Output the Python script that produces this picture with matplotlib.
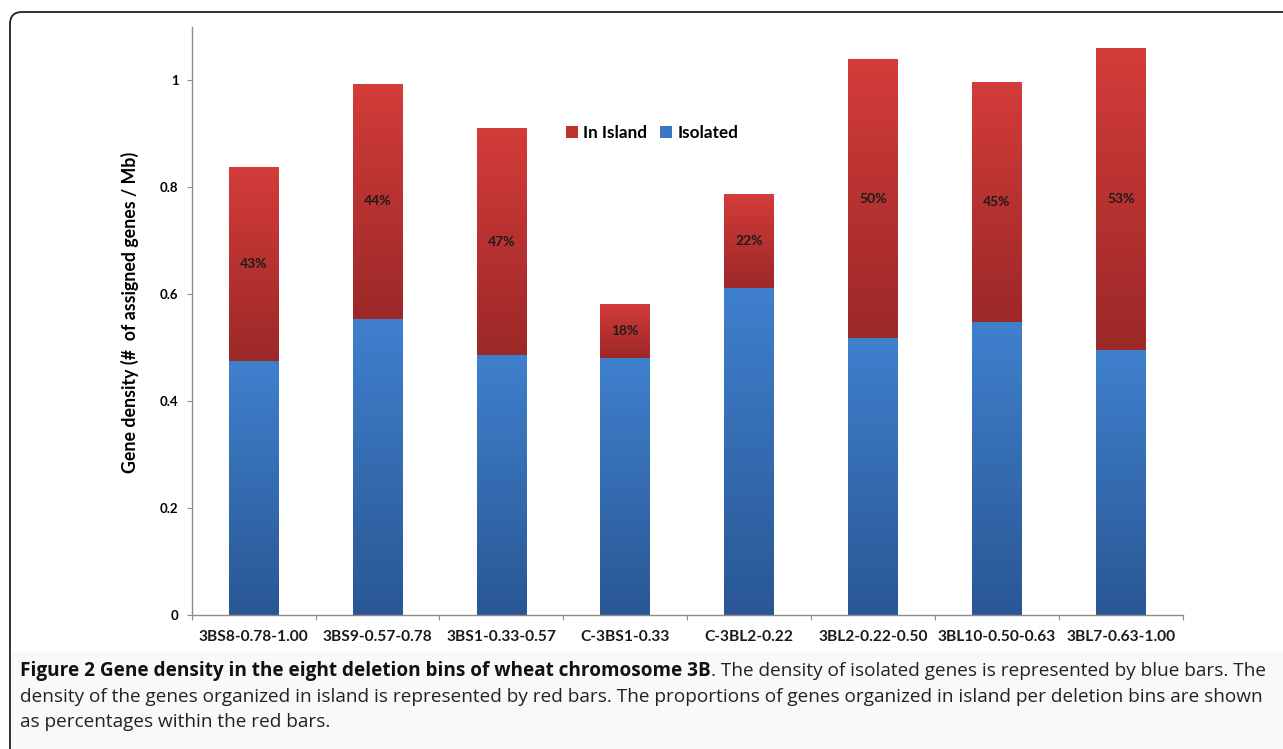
import numpy as np
import matplotlib
matplotlib.use('Agg')
import matplotlib.pyplot as plt
from matplotlib.colors import LinearSegmentedColormap
from matplotlib.patches import FancyBboxPatch, Rectangle

# Data
bins = ['3BS8-0.78-1.00', '3BS9-0.57-0.78', '3BS1-0.33-0.57', 'C-3BS1-0.33',
        'C-3BL2-0.22', '3BL2-0.22-0.50', '3BL10-0.50-0.63', '3BL7-0.63-1.00']
isolated = [0.475, 0.553, 0.486, 0.480, 0.611, 0.518, 0.548, 0.495]
in_island = [0.362, 0.440, 0.424, 0.101, 0.176, 0.521, 0.448, 0.565]
pct_labels = ['43%', '44%', '47%', '18%', '22%', '50%', '45%', '53%']
y_ticks = [0, 0.2, 0.4, 0.6, 0.8, 1.0]
y_tick_labels = ['0', '0.2', '0.4', '0.6', '0.8', '1']

blue_top, blue_bot = '#3f80cd', '#2a5794'
red_top, red_bot = '#d33c39', '#9c2828'


def gradient_bars(ax, bars, top_color, bottom_color):
    cmap = LinearSegmentedColormap.from_list('g', [bottom_color, top_color])
    grad = np.linspace(0, 1, 256).reshape(-1, 1)
    for bar in bars:
        x, y = bar.get_x(), bar.get_y()
        w, h = bar.get_width(), bar.get_height()
        im = ax.imshow(grad, extent=[x, x + w, y, y + h], origin='lower',
                       cmap=cmap, aspect='auto', zorder=2)
        im.set_clip_path(bar)
        bar.set_facecolor('none')


W, H = 1283, 749
fig = plt.figure(figsize=(W / 100, H / 100), dpi=100)
fig.patch.set_facecolor('white')

# caption area and frame
fig.add_artist(Rectangle((10 / W, 0), 1, 97 / H, transform=fig.transFigure,
                         facecolor='#f9f9f9', edgecolor='none', zorder=0))
fig.add_artist(FancyBboxPatch((0.10, -1.0), 14.0, 8.37,
                              boxstyle='round,pad=0,rounding_size=0.12',
                              transform=fig.dpi_scale_trans,
                              facecolor='none', edgecolor='#222222',
                              linewidth=1.3, zorder=1))

ax = fig.add_axes([191.7 / W, 1 - 615 / H, 991 / W, (615 - 26.5) / H])
ax.set_facecolor('none')

x = np.arange(len(bins))
b1 = ax.bar(x, isolated, width=0.4, color=blue_top, label='Isolated', zorder=2)
b2 = ax.bar(x, in_island, width=0.4, bottom=isolated, color=red_top,
            label='In Island', zorder=2)
gradient_bars(ax, b1, blue_top, blue_bot)
gradient_bars(ax, b2, red_top, red_bot)

for i in range(len(bins)):
    ax.text(x[i], isolated[i] + in_island[i] / 2, pct_labels[i],
            ha='center', va='center', fontsize=10, fontweight='bold',
            family='Lato', color='#1c1c1c', zorder=3)

ax.set_xlim(-0.5, len(bins) - 0.5)
ax.set_ylim(0, 1.1)

for s in ['top', 'right']:
    ax.spines[s].set_visible(False)
for s in ['left', 'bottom']:
    ax.spines[s].set_color('#8c8c8c')
    ax.spines[s].set_linewidth(1.0)

ax.set_yticks(y_ticks)
ax.set_yticklabels(y_tick_labels, fontsize=9.5, fontweight='bold', family='Lato')
ax.tick_params(axis='y', length=3.6, color='#8c8c8c', pad=6)

ax.set_xticks(np.arange(-0.5, len(bins), 1.0))
ax.set_xticklabels([])
ax.tick_params(axis='x', which='major', length=3.6, color='#8c8c8c')
ax.set_xticks(x, minor=True)
ax.set_xticklabels(bins, minor=True, fontsize=11.2, fontweight='bold',
                   family='Lato', color='#1a1a1a')
ax.tick_params(axis='x', which='minor', length=0, pad=11)

ax.set_ylabel('Gene density (#  of assigned genes / Mb)', fontsize=12.8,
              fontweight='bold', family='Lato')
ax.yaxis.set_label_coords(-0.0532, 0.515)

handles = [b2, b1]
leg = ax.legend(handles, ['In Island', 'Isolated'], ncol=2, frameon=False,
                loc='center', bbox_to_anchor=(0.4645, 0.8195),
                handlelength=0.7, handleheight=0.7, handletextpad=0.3,
                columnspacing=0.8, prop={'family': 'Lato', 'weight': 'bold', 'size': 12.3})
leg.legend_handles[0].set_facecolor('#c4322f')
leg.legend_handles[1].set_facecolor('#3a78c4')

# caption
cap_size = 13.7
bold_part = 'Figure 2 Gene density in the eight deletion bins of wheat chromosome 3B'
t1 = fig.text(20 / W, 1 - 671 / H, bold_part, fontsize=cap_size, fontweight='bold',
              family='Open Sans', va='center', ha='left', color='#111111')
fig.canvas.draw()
bb = t1.get_window_extent(fig.canvas.get_renderer())
fig.text(bb.x1 / W, 1 - 671 / H,
         '. The density of isolated genes is represented by blue bars. The',
         fontsize=cap_size, family='Open Sans', va='center', ha='left', color='#222222')
fig.text(20 / W, 1 - 697 / H,
         'density of the genes organized in island is represented by red bars. '
         'The proportions of genes organized in island per deletion bins are shown',
         fontsize=cap_size, family='Open Sans', va='center', ha='left', color='#222222')
fig.text(20 / W, 1 - 722 / H, 'as percentages within the red bars.',
         fontsize=cap_size, family='Open Sans', va='center', ha='left', color='#222222')

fig.savefig('out.png', dpi=100)
